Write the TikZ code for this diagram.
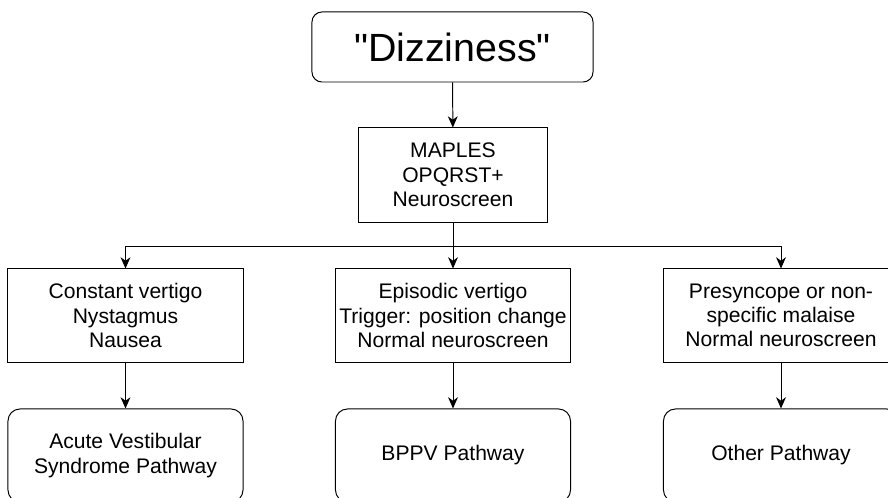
\documentclass[tikz,border=0pt]{standalone}
\usepackage{fontspec}
\setmainfont{Liberation Sans}
\usetikzlibrary{arrows.meta}

\begin{document}
\begin{tikzpicture}[x=0.025cm, y=-0.025cm,
        box/.style={draw=black, line width=0.7pt, align=center, inner sep=2pt,
            minimum width=5.875cm, minimum height=2.325cm,
            font=\fontsize{15}{17.3}\selectfont},
        pathway/.style={box, rounded corners=0.3cm},
        arr/.style={-{Stealth[length=8pt, width=7pt, inset=2.5pt]}, line width=0.7pt}]
        \useasboundingbox (0,0) rectangle (888,498);
        \clip (0,0) rectangle (888,498);

        % presenting complaint and history
        \node[box, rounded corners=0.25cm, minimum width=7.025cm, minimum height=1.75cm,
            font=\fontsize{28}{32}\selectfont] (dizzy) at (452.5,47) {\textquotedbl Dizziness\textquotedbl};
        \node[box, minimum width=4.7cm, minimum height=2.35cm] (maples) at (453,175)
            {MAPLES\\OPQRST+\\Neuroscreen};
        \coordinate (split) at (453,246);

        % presentations
        \node[box] (constant) at (125.5,315.5) {Constant vertigo\\Nystagmus\\Nausea};
        \node[box] (episodic) at (453,315.5) {Episodic vertigo\\Trigger: position change\\Normal neuroscreen};
        \node[box] (presyncope) at (781,315.5) {Presyncope or non-\\specific malaise\\Normal neuroscreen};

        % pathways
        \node[pathway] (avs) at (125.5,455.5) {Acute Vestibular\\Syndrome Pathway};
        \node[pathway] (bppv) at (453,455.5) {BPPV Pathway};
        \node[pathway] (other) at (781,455.5) {Other Pathway};

        % connectors
        \draw[arr] (dizzy) -- (maples);
        \draw[arr] (maples) -- (episodic);
        \draw[arr] (split) -| (constant);
        \draw[arr] (split) -| (presyncope);
        \draw[arr] (constant) -- (avs);
        \draw[arr] (episodic) -- (bppv);
        \draw[arr] (presyncope) -- (other);
    \end{tikzpicture}
\end{document}
